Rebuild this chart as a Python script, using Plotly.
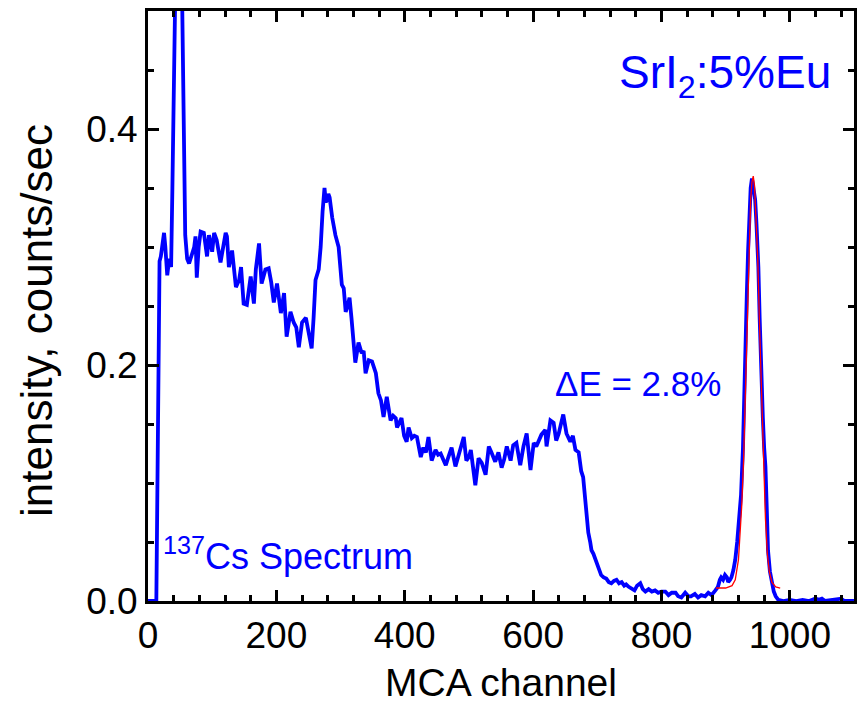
import plotly.graph_objects as go

# Measured 137Cs spectrum (MCA channel, intensity counts/sec)
channel = [0,13,18,20,22,25,27,30,33,36,38,40,42,44,46,48,50,52,54,56,58,61,64,68,72,74,76,79,82,87,92,95,100,103,107,113,117,121,123,126,131,137,142,145,149,154,160,165,168,173,177,183,188,192,196,201,207,212,216,222,227,231,235,240,246,251,255,258,261,266,269,272,275,277,279,281,283,287,292,297,302,305,308,311,314,317,320,323,328,333,336,339,344,349,355,359,363,367,372,375,378,382,386,388,392,395,399,403,406,411,415,419,425,429,433,437,442,448,452,456,460,464,468,473,479,484,488,492,496,500,503,507,510,515,520,526,531,535,541,546,551,555,559,565,569,574,580,585,590,596,601,605,609,613,619,621,627,632,636,640,643,647,652,655,658,662,666,671,675,678,681,683,686,689,691,694,697,702,706,710,714,718,722,726,730,734,738,742,745,749,753,758,762,767,771,775,780,785,790,795,800,806,811,816,822,826,831,837,842,846,852,857,862,868,873,878,884,888,891,893,896,899,902,904,907,909,912,915,918,920,922,924,927,930,933,935,937,939,941,943,944,946,948,951,953,955,958,960,962,964,966,969,972,975,978,982,990,1000,1010,1020,1030,1040,1045,1050,1055,1070,1080,1085,1100]
intensity = [0,0,0.288,0.292,0.30,0.312,0.30,0.276,0.29,0.283,0.35,0.43,0.5,0.62,0.7,0.72,0.66,0.56,0.47,0.38,0.31,0.29,0.286,0.293,0.30,0.309,0.274,0.30,0.313,0.312,0.292,0.31,0.296,0.312,0.306,0.287,0.30,0.312,0.309,0.283,0.297,0.266,0.272,0.283,0.252,0.251,0.275,0.252,0.281,0.303,0.269,0.281,0.282,0.27,0.253,0.269,0.244,0.261,0.224,0.245,0.236,0.232,0.215,0.236,0.24,0.227,0.214,0.24,0.272,0.281,0.30,0.33,0.35,0.338,0.34,0.345,0.342,0.325,0.31,0.30,0.268,0.265,0.245,0.25,0.257,0.24,0.224,0.202,0.219,0.21,0.212,0.193,0.204,0.203,0.193,0.176,0.17,0.156,0.173,0.16,0.153,0.157,0.155,0.147,0.152,0.155,0.14,0.135,0.147,0.138,0.14,0.139,0.122,0.13,0.126,0.139,0.119,0.128,0.124,0.125,0.12,0.115,0.122,0.13,0.114,0.124,0.13,0.139,0.119,0.122,0.128,0.109,0.098,0.121,0.117,0.107,0.131,0.126,0.118,0.126,0.113,0.12,0.131,0.119,0.132,0.134,0.115,0.131,0.142,0.111,0.134,0.131,0.137,0.141,0.145,0.131,0.153,0.151,0.136,0.142,0.149,0.158,0.142,0.138,0.135,0.14,0.128,0.126,0.11,0.105,0.086,0.07,0.058,0.05,0.043,0.04,0.035,0.029,0.022,0.02,0.019,0.016,0.015,0.017,0.018,0.015,0.016,0.013,0.014,0.012,0.011,0.009,0.013,0.015,0.01,0.008,0.01,0.008,0.009,0.007,0.008,0.008,0.005,0.007,0.007,0.004,0.003,0.007,0.004,0.004,0.006,0.003,0.005,0.004,0.007,0.005,0.009,0.012,0.018,0.02,0.018,0.022,0.02,0.016,0.018,0.02,0.026,0.035,0.05,0.062,0.071,0.09,0.13,0.207,0.26,0.297,0.33,0.35,0.358,0.352,0.345,0.34,0.32,0.283,0.24,0.198,0.155,0.13,0.114,0.08,0.043,0.025,0.015,0.008,0.004,0.001,0.0,0.001,0.0,0.001,0.0,0.002,0.001,0.002,0.0,0.001,0.002,0.0,0.0]

# Gaussian fit of the photopeak
fit_channel = [885,900,910,915,920,925,928,931,934,937,939,941,943,945,947,950,953,956,959,962,965,968,972,978,985]
fit_intensity = [0.011,0.011,0.013,0.018,0.035,0.08,0.12,0.18,0.25,0.31,0.34,0.355,0.36,0.352,0.33,0.29,0.23,0.17,0.115,0.07,0.04,0.025,0.016,0.012,0.011]

x_ticks = [0, 200, 400, 600, 800, 1000]
y_ticks = [0.0, 0.2, 0.4]
y_tick_labels = ["0.0", "0.2", "0.4"]

FONT = "Liberation Sans, Arial, sans-serif"
BLUE = "#0000ff"

fig = go.Figure()
fig.add_trace(go.Scatter(x=channel, y=intensity, mode="lines",
                         line=dict(color=BLUE, width=3.8), showlegend=False))
fig.add_trace(go.Scatter(x=fit_channel, y=fit_intensity, mode="lines",
                         line=dict(color="#ff0000", width=1.3), showlegend=False))

axis_common = dict(
    showline=True, linecolor="black", linewidth=3, mirror="allticks",
    ticks="inside", ticklen=11, tickwidth=3, tickcolor="black",
    showgrid=False, zeroline=False,
    tickfont=dict(family=FONT, size=37, color="black"),
)
fig.update_xaxes(range=[0, 1100], tickvals=x_ticks,
                 minor=dict(ticks="inside", ticklen=6, tickwidth=2.5, dtick=40, tick0=0, tickcolor="black"),
                 title=dict(text="MCA channel", font=dict(family=FONT, size=39, color="black"), standoff=14),
                 **axis_common)
fig.update_yaxes(range=[0, 0.5], tickvals=y_ticks, ticktext=y_tick_labels,
                 minor=dict(ticks="inside", ticklen=6, tickwidth=2.5, dtick=0.05, tick0=0, tickcolor="black"),
                 **axis_common)

# y-axis title placed as rotated text
fig.add_annotation(xref="paper", yref="paper", x=-0.159, y=0.476, xanchor="center", yanchor="middle",
                   text="intensity, counts/sec", textangle=-90, showarrow=False,
                   font=dict(family=FONT, size=44, color="black"))

fig.add_annotation(xref="paper", yref="paper", x=0.97, y=0.89, xanchor="right", yanchor="middle",
                   text="SrI<sub>2</sub>:5%Eu", showarrow=False,
                   font=dict(family=FONT, size=46, color=BLUE))
fig.add_annotation(xref="paper", yref="paper", x=0.694, y=0.368, xanchor="center", yanchor="middle",
                   text="\u0394E = 2.8%", showarrow=False,
                   font=dict(family=FONT, size=35, color=BLUE))
fig.add_annotation(xref="paper", yref="paper", x=0.018, y=0.08, xanchor="left", yanchor="middle",
                   text="<sup>137</sup>Cs Spectrum", showarrow=False,
                   font=dict(family=FONT, size=36, color=BLUE))

fig.update_layout(width=860, height=721, margin=dict(l=148, r=3, t=11, b=120),
                  plot_bgcolor="white", paper_bgcolor="white")
fig.write_html("out.html")
